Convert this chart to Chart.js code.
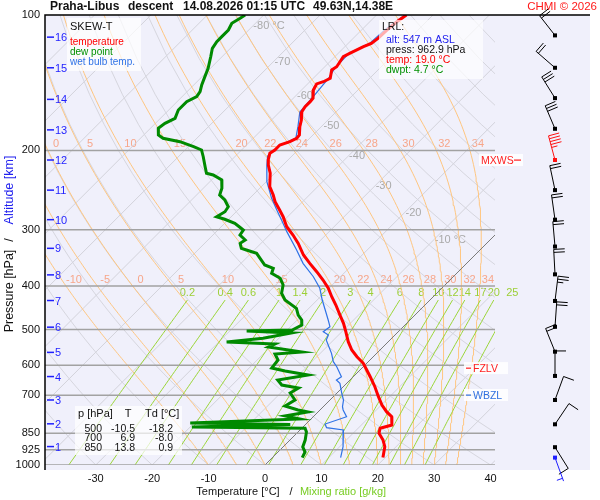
<!DOCTYPE html>
<html>
<head>
<meta charset="utf-8">
<title>Skew-T Praha-Libus</title>
<script src="https://cdn.jsdelivr.net/npm/chart.js@4.4.0/dist/chart.umd.min.js"></script>
<style>
  html, body { margin: 0; padding: 0; background: #fff; }
</style>
</head>
<body>
<canvas id="skewT" width="600" height="500"></canvas>
<script>
// ---- sounding: pressure [hPa], temperature [°C] ----
const tempP = [100, 103.5, 108.0, 112.7, 115.6, 117.6, 121.6, 123.8, 127.0, 130.3, 132.5, 138.2, 140.7, 142.3, 146.8,
  153.1, 155.8, 159.9, 164.0, 171.2, 177.1, 184.8, 187.9, 191.2, 194.5, 199.5, 202.9, 210.0, 215.4, 224.7,
  240.7, 251.2, 259.9, 271.3, 280.7, 295.4, 308.3, 321.7, 341.5, 356.4, 371.9, 388.1, 404.9, 422.7, 441.0,
  464.2, 484.3, 505.6, 532.1, 555.2, 574.5, 594.3, 615.0, 636.5, 669.9, 705.0, 735.7, 761.3, 781.0, 814.9,
  828.7, 850.4, 880.0, 910.7, 962.9];
const tempT = [-54.7, -55.2, -55.5, -55.6, -55.9, -56.7, -57.9, -58.5, -58.2, -57.9, -58.2, -57.0, -57.6, -58.4, -57.9,
  -56.5, -56.4, -56.4, -56.1, -54.7, -53.8, -52.4, -52.3, -52.9, -54.1, -54.1, -54.4, -53.5, -52.6, -50.8,
  -48.5, -46.4, -44.9, -42.6, -40.8, -38.4, -35.8, -33.4, -30.4, -27.8, -25.1, -22.5, -20.1, -18.0, -15.8,
  -13.3, -11.2, -9.3, -7.1, -5.0, -2.9, -0.6, 1.2, 3.0, 5.6, 8.0, 10.1, 12.1, 13.9, 15.4,
  13.9, 14.6, 16.5, 18.0, 19.6];

const dewP = [100, 101.7, 104.3, 108.0, 111.7, 114.6, 118.6, 123.8, 131.4, 137.1, 143.0, 148.0, 151.9, 155.8, 162.6,
  169.7, 174.1, 178.6, 184.8, 187.9, 191.2, 196.1, 199.5, 206.5, 217.3, 224.7, 226.7, 232.6, 242.7, 251.2,
  257.7, 266.7, 273.6, 280.7, 284.4, 290.3, 296.3, 300.4, 308.3, 316.2, 321.7, 330.0, 332.9, 338.6, 347.4,
  359.4, 365.5, 375.0, 384.7, 398.1, 415.4, 429.9, 448.6, 464.2, 476.2, 488.5, 501.2, 503.8, 509.0, 522.9,
  533.0, 538.4, 546.8, 561.0, 566.7, 584.4, 608.7, 618.2, 631.0, 647.4, 664.2, 674.5, 691.8, 717.1, 739.4,
  754.6, 762.4, 778.2, 790.3, 806.6, 812.8, 823.3, 828.7, 844.6, 880.0, 912.0, 935.7, 962.9];
const dewT = [-83.3, -83.6, -84.2, -83.6, -83.6, -83.6, -83.2, -82.0, -80.4, -79.5, -78.6, -77.7, -77.4, -78.3, -78.3,
  -77.4, -78.3, -78.6, -77.4, -76.0, -72.4, -69.1, -67.1, -65.6, -63.5, -62.1, -60.6, -58.2, -56.7, -55.9,
  -54.1, -52.3, -52.0, -52.6, -50.7, -48.2, -46.6, -45.5, -45.2, -43.4, -43.7, -42.6, -41.4, -39.0, -37.5,
  -35.5, -33.4, -32.8, -30.4, -28.7, -27.5, -25.7, -22.2, -20.7, -19.2, -18.3, -19.1, -27.0, -18.7, -22.8,
  -28.6, -19.7, -20.3, -13.5, -17.9, -16.3, -16.0, -13.1, -8.3, -12.8, -11.2, -7.7, -8.3, -6.2, -6.9,
  -3.9, -1.8, -5.1, -2.0, -20.7, -2.7, -19.7, 0.6, 1.5, 2.7, 3.5, 4.8, 5.3];

const wetP = [100, 108.0, 115.6, 121.6, 131.1, 138.0, 152.9, 164.3, 177.3, 187.6, 195.4, 205.8, 216.5, 234.6, 255.5,
  271.3, 285.5, 303.0, 332.9, 356.4, 381.6, 404.9, 429.9, 452.4, 476.2, 492.8, 505.6, 514.2, 527.5, 564.8,
  589.4, 604.8, 636.5, 647.4, 658.3, 692.9, 717.1, 742.0, 754.6, 781.0, 810.8, 826.2, 836.0, 910.7, 962.9];
const wetT = [-55.0, -55.9, -56.2, -58.1, -58.0, -57.3, -56.7, -56.4, -54.1, -52.5, -54.1, -54.3, -52.7, -49.9, -46.1,
  -43.1, -40.5, -37.5, -32.5, -29.0, -24.8, -21.6, -19.1, -16.8, -14.5, -13.0, -13.3, -11.8, -11.3, -8.0,
  -6.2, -4.7, -2.1, -2.4, -1.2, 0.9, 2.4, 3.4, 4.1, 5.9, 3.4, 4.3, 7.7, 10.6, 12.1];

// ---- axes and reference lines ----
const pressureTicks = [100, 200, 300, 400, 500, 600, 700, 850, 925, 1000];
const tempTicks = [-30, -20, -10, 0, 10, 20, 30, 40];
const altitudeKm = [1, 2, 3, 4, 5, 6, 7, 8, 9, 10, 11, 12, 13, 14, 15, 16];
const altitudeP = [910, 810, 717, 636, 562, 494, 431, 378, 330, 285, 245, 210, 180, 154, 131, 112];
const isothermLabelT = [-80, -70, -60, -50, -40, -30, -20, -10];
const isothermLabelP = [106, 127, 151, 176, 206, 240, 275, 316];
const moistThetaW = [-10, -5, 0, 5, 10, 15, 20, 22, 24, 26, 28, 30, 32, 34];
const mixingRatios = [0.2, 0.4, 0.6, 1, 1.4, 2, 3, 4, 6, 8, 10, 12, 14, 17, 20, 25];

// ---- wind barbs ----
const windP = [111, 131, 153, 179, 210, 245, 285, 327, 377, 432, 493, 560, 634, 717, 812, 913, 962.9];
const windDir = [322, 311, 328, 337, 345, 348, 352, 355, 357, 7, 4, 338, 0, 20, 34, 148, 160];
const windKt = [20, 20, 30, 30, 45, 20, 20, 20, 20, 25, 20, 20, 10, 10, 10, 10, 5];

// ---- special levels and text boxes ----
const levelNames = ['MXWS', 'FZLV', 'WBZL'];
const levelP = [210, 609, 699];
const tableP = [500, 700, 850];
const tableT = [-10.5, 6.9, 13.8];
const tableTd = [-18.2, -8.0, 0.9];
const lrlAlt = 547, lrlPress = 962.9, lrlTemp = 19.0, lrlDwpt = 4.7;

// ---- skew geometry ----
const X_MIN = -39.0, X_MAX = 57.62;
const SKEW = 450 * (X_MAX - X_MIN) / 545;   // 45° isotherms
const X_DIAGRAM = 40.8;                      // right edge of the diagram (x=495)
const X_LOW_ISOBAR = 49.6;                   // lower isobars run a bit further
const MIX_TOP = 430;

function skewX(t, p) { return t + SKEW * Math.log10(1000 / p); }
function satVap(t) { return 6.112 * Math.exp(17.67 * t / (t + 243.5)); }
function dewFromMix(w, p) {
  const l = Math.log((w * p / (622 + w)) / 6.112);
  return 243.5 * l / (17.67 - l);
}
function moistLapse(t, p) {
  const tk = t + 273.15, es = satVap(t), rs = 0.622 * es / (p - es);
  const L = 2.501e6, Rd = 287.04;
  return (Rd * tk + L * rs) / (p * (1005.7 + L * L * rs * 0.622 / (Rd * tk * tk)));
}

const clipDiagram = { left: 0, top: 0, right: -95, bottom: 0 };
function lineDs(data, color, width, order, clip) {
  return { data, borderColor: color, borderWidth: width, pointRadius: 0, showLine: true,
    fill: false, order, clip: clip || clipDiagram, tension: 0 };
}
function profile(ps, ts) { return ps.map((p, i) => ({ x: skewX(ts[i], p), y: p })); }

const datasets = [];
datasets.push(lineDs(profile(tempP, tempT), '#ff0000', 3, 0));
datasets.push(lineDs(profile(dewP, dewT), '#008a00', 3, 1));
datasets.push(lineDs(profile(wetP, wetT), '#2f72e6', 1.2, 2));

// isobars
pressureTicks.filter(p => p > 100).forEach(p => {
  datasets.push(lineDs([{ x: X_MIN, y: p }, { x: p >= 850 ? X_LOW_ISOBAR : X_DIAGRAM, y: p }],
    '#a2a2a2', 1.5, 5, 0));
});

// isotherms
for (let t = -120; t <= 40; t += 10) {
  const col = t === 0 ? '#7a7a7a' : '#d2d2da';
  datasets.push(lineDs([{ x: skewX(t, 1000), y: 1000 }, { x: skewX(t, 100), y: 100 }], col, 1, t === 0 ? 6 : 10));
}

// dry adiabats
for (let th = -40; th <= 200; th += 10) {
  const pts = [];
  for (let p = 1000; p >= 100; p -= 25) {
    pts.push({ x: skewX((th + 273.15) * Math.pow(p / 1000, 0.2857) - 273.15, p), y: p });
  }
  datasets.push(lineDs(pts, '#d6d6de', 1, 9));
}

// saturated adiabats, keep their temperature at 200 and 400 hPa for labels
const moistAt = {};
moistThetaW.forEach(tw => {
  const pts = [];
  let t = tw;
  for (let p = 1000; p >= 100; p -= 5) {
    pts.push({ x: skewX(t, p), y: p });
    if (p === 400 || p === 200) moistAt[tw + '_' + p] = t;
    const k1 = moistLapse(t, p);
    const k2 = moistLapse(t - 2.5 * k1, p - 2.5);
    t -= 5 * k2;
  }
  datasets.push(lineDs(pts, '#ffc680', 1, 8));
});

// mixing ratio lines
mixingRatios.forEach(w => {
  const pts = [];
  for (let p = 1000; p >= MIX_TOP; p -= 10) pts.push({ x: skewX(dewFromMix(w, p), p), y: p });
  datasets.push(lineDs(pts, '#9bd638', 1, 7, 0));
});

const FONT = "'Liberation Sans', Arial, sans-serif";
Chart.defaults.font.family = FONT;

function txt(ctx, s, x, y, color, size, align, bold) {
  ctx.font = (bold ? 'bold ' : '') + size + 'px ' + FONT;
  ctx.fillStyle = color;
  ctx.textAlign = align || 'left';
  ctx.textBaseline = 'middle';
  ctx.fillText(s, x, y);
}

const backgroundPlugin = {
  id: 'background',
  beforeDraw(chart) {
    const { ctx, chartArea: a } = chart;
    ctx.save();
    ctx.fillStyle = '#ffffff';
    ctx.fillRect(0, 0, chart.width, chart.height);
    ctx.fillStyle = '#f0f0fb';
    ctx.fillRect(a.left, a.top, a.right - a.left, a.bottom - a.top + 5);
    ctx.restore();
  }
};

// labels of the reference lines, drawn under the curves
const gridLabelPlugin = {
  id: 'gridLabels',
  beforeDatasetsDraw(chart) {
    const { ctx, scales: { x, y } } = chart;
    ctx.save();
    isothermLabelT.forEach((t, i) => {
      const p = isothermLabelP[i];
      const s = (i === 0 || i === isothermLabelT.length - 1) ? t + ' °C' : String(t);
      txt(ctx, s, x.getPixelForValue(skewX(t, p)) + 1, y.getPixelForValue(p), '#a9a9a9', 11);
    });
    [200, 400].forEach(p => {
      moistThetaW.forEach(tw => {
        const px = x.getPixelForValue(skewX(moistAt[tw + '_' + p], p)) + 8;
        if (px < 50 || px > 492) return;
        txt(ctx, String(tw), px, y.getPixelForValue(p) - 6, '#f7a68a', 11, 'center');
      });
    });
    mixingRatios.forEach(w => {
      const px = x.getPixelForValue(skewX(dewFromMix(w, MIX_TOP), MIX_TOP));
      txt(ctx, String(w), px, y.getPixelForValue(MIX_TOP) - 7, '#9ccf36', 11, 'center');
    });
    ctx.restore();
  }
};

function drawBarb(ctx, x0, y0, dir, kt, color) {
  const r = dir * Math.PI / 180;
  const ux = Math.sin(r), uy = -Math.cos(r);
  const nx = -uy, ny = ux;
  const L = 25;
  ctx.strokeStyle = color;
  ctx.fillStyle = color;
  ctx.lineWidth = 1;
  ctx.beginPath();
  ctx.moveTo(x0, y0);
  ctx.lineTo(x0 + ux * L, y0 + uy * L);
  ctx.stroke();
  ctx.fillRect(x0 - 2, y0 - 2, 4, 4);
  let pos = L, rest = Math.round(kt / 5) * 5;
  while (rest >= 50) {
    ctx.beginPath();
    ctx.moveTo(x0 + ux * pos, y0 + uy * pos);
    ctx.lineTo(x0 + ux * pos + nx * 11, y0 + uy * pos + ny * 11);
    ctx.lineTo(x0 + ux * (pos - 5), y0 + uy * (pos - 5));
    ctx.fill();
    pos -= 7; rest -= 50;
  }
  while (rest >= 10) {
    ctx.beginPath();
    ctx.moveTo(x0 + ux * pos, y0 + uy * pos);
    ctx.lineTo(x0 + ux * pos + nx * 11, y0 + uy * pos + ny * 11);
    ctx.stroke();
    pos -= 3; rest -= 10;
  }
  if (rest >= 5) {
    if (pos === L) pos -= 3;
    ctx.beginPath();
    ctx.moveTo(x0 + ux * pos, y0 + uy * pos);
    ctx.lineTo(x0 + ux * pos + nx * 6, y0 + uy * pos + ny * 6);
    ctx.stroke();
  }
}

const overlayPlugin = {
  id: 'overlay',
  afterDraw(chart) {
    const { ctx, chartArea: a, scales: { y } } = chart;
    ctx.save();

    // frame
    ctx.strokeStyle = '#000';
    ctx.lineWidth = 1.5;
    ctx.beginPath();
    ctx.moveTo(a.left, a.bottom + 5);
    ctx.lineTo(a.left, a.top);
    ctx.lineTo(a.right, a.top);
    ctx.stroke();

    // title
    txt(ctx, 'Praha-Libus', 50, 7, '#111', 12, 'left', true);
    txt(ctx, 'descent', 128, 7, '#111', 12, 'left', true);
    txt(ctx, '14.08.2026 01:15 UTC', 183, 7, '#111', 12, 'left', true);
    txt(ctx, '49.63N,14.38E', 313, 7, '#111', 12, 'left', true);
    txt(ctx, 'CHMI © 2026', 597, 7, '#ff1a1a', 11.5, 'right');

    // altitude ticks
    altitudeKm.forEach((km, i) => {
      const py = y.getPixelForValue(altitudeP[i]);
      ctx.fillStyle = '#1f1fff';
      ctx.fillRect(47, py - 0.75, 7, 1.5);
      txt(ctx, String(km), 55, py + 1, '#1f1fff', 11);
    });

    // legend box
    ctx.fillStyle = 'rgba(255,255,255,0.7)';
    ctx.fillRect(67, 18, 74, 53);
    txt(ctx, 'SKEW-T', 70, 27, '#111', 11);
    txt(ctx, 'temperature', 70, 42, '#ff0000', 10);
    txt(ctx, 'dew point', 70, 52, '#009000', 10);
    txt(ctx, 'wet bulb temp.', 70, 62, '#2f72e6', 10);

    // lowest reference level box
    ctx.fillStyle = 'rgba(255,255,255,0.68)';
    ctx.fillRect(379, 20, 104, 59);
    txt(ctx, 'LRL:', 382, 27, '#111', 10.5);
    txt(ctx, 'alt: ' + lrlAlt + ' m ASL', 386, 40, '#2020ee', 10.5);
    txt(ctx, 'press: ' + lrlPress.toFixed(1) + ' hPa', 386, 50, '#111', 10.5);
    txt(ctx, 'temp: ' + lrlTemp.toFixed(1) + ' °C', 386, 60, '#ff0000', 10.5);
    txt(ctx, 'dwpt: ' + lrlDwpt.toFixed(1) + ' °C', 386, 70, '#009000', 10.5);

    // table box
    ctx.fillStyle = 'rgba(255,255,255,0.7)';
    ctx.fillRect(75, 406, 107, 49);
    txt(ctx, 'p [hPa]', 78, 414, '#111', 11);
    txt(ctx, 'T', 128, 414, '#111', 11, 'center');
    txt(ctx, 'Td [°C]', 145, 414, '#111', 11);
    tableP.forEach((p, i) => {
      const ry = 429 + i * 9.6;
      txt(ctx, String(p), 102, ry, '#111', 10.5, 'right');
      txt(ctx, tableT[i].toFixed(1), 135, ry, '#111', 10.5, 'right');
      txt(ctx, tableTd[i].toFixed(1), 173, ry, '#111', 10.5, 'right');
    });

    // special levels
    const lvlStyle = [
      { color: '#ff2020', textX: 481, d0: 514, d1: 521 },
      { color: '#ff2020', textX: 473, d0: 466, d1: 471 },
      { color: '#3070e0', textX: 473, d0: 466, d1: 471 }
    ];
    levelNames.forEach((name, i) => {
      const s = lvlStyle[i], py = y.getPixelForValue(levelP[i]);
      ctx.fillStyle = 'rgba(255,255,255,0.85)';
      ctx.fillRect(Math.min(s.textX, s.d0) - 2, py - 6, 44, 12);
      ctx.fillStyle = s.color;
      ctx.fillRect(s.d0, py - 0.5, s.d1 - s.d0, 1.2);
      txt(ctx, name, s.textX, py + 1, s.color, 10.5);
    });

    // axis titles
    txt(ctx, 'Temperature [°C]', 238, 492, '#111', 11, 'center');
    txt(ctx, '/', 291, 492, '#111', 11, 'center');
    txt(ctx, 'Mixing ratio [g/kg]', 343, 492, '#77cc22', 11, 'center');
    ctx.save();
    ctx.translate(10, 0);
    ctx.rotate(-Math.PI / 2);
    txt(ctx, 'Pressure [hPa]', -291, 0, '#111', 12.5, 'center');
    txt(ctx, '/', -240, 0, '#111', 12.5, 'center');
    txt(ctx, 'Altitude [km]', -190, 0, '#2020ee', 12.5, 'center');
    ctx.restore();

    // wind barbs
    windP.forEach((p, i) => {
      let col = '#000';
      if (Math.abs(p - levelP[0]) < 0.5) col = '#ff1010';
      if (i === windP.length - 1) col = '#1f1fff';
      drawBarb(ctx, 555, y.getPixelForValue(p), windDir[i], windKt[i], col);
    });

    ctx.restore();
  }
};

new Chart(document.getElementById('skewT'), {
  type: 'scatter',
  data: { datasets },
  options: {
    responsive: false,
    animation: false,
    devicePixelRatio: 1,
    layout: { padding: { top: 15, right: 10, left: 0, bottom: 0 } },
    plugins: { legend: { display: false }, tooltip: { enabled: false } },
    scales: {
      x: {
        type: 'linear', min: X_MIN, max: X_MAX,
        afterBuildTicks: s => { s.ticks = tempTicks.map(v => ({ value: v })); },
        afterFit: s => { s.height = 35; },
        grid: { display: false, drawTicks: false },
        border: { display: false },
        ticks: { color: '#111', font: { size: 11 }, padding: 7, autoSkip: false, maxRotation: 0, callback: v => String(v) }
      },
      y: {
        type: 'logarithmic', reverse: true, min: 100, max: 1000,
        afterBuildTicks: s => { s.ticks = pressureTicks.map(v => ({ value: v })); },
        afterFit: s => { s.width = 45; },
        grid: { display: false, drawTicks: false },
        border: { display: false },
        ticks: { color: '#111', font: { size: 11 }, padding: 5, autoSkip: false, callback: v => String(v) }
      }
    }
  },
  plugins: [backgroundPlugin, gridLabelPlugin, overlayPlugin]
});
</script>
</body>
</html>
